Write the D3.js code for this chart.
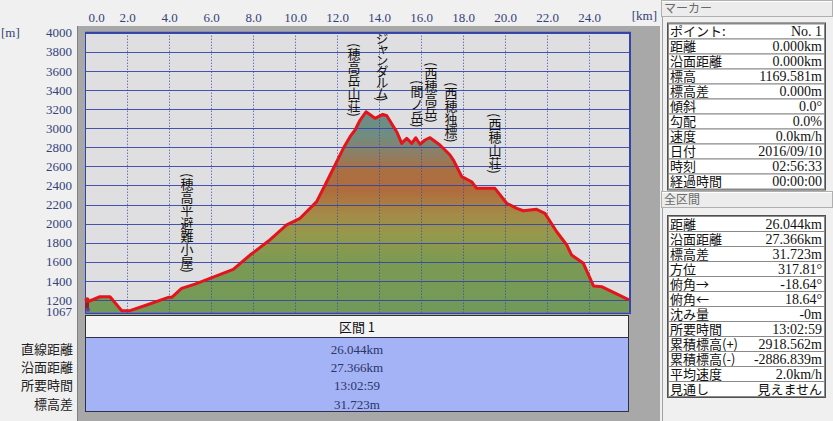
<!DOCTYPE html>
<html><head><meta charset="utf-8">
<script src="https://cdn.jsdelivr.net/npm/d3@7"></script>
<style>
html,body{margin:0;padding:0;background:#f0f0f0;overflow:hidden;}
svg{display:block;}
.ser{font-family:"Liberation Serif","DejaVu Serif",serif;}
.jp{font-family:"Noto Sans CJK JP","Noto Sans",sans-serif;}
</style></head><body>
<svg id="c" width="833" height="421"></svg>
<script>
// ---------- data ----------
const distKm = [0, 0.71, 1.19, 1.75, 2.14, 2.94, 3.97, 4.13, 4.6, 5.24, 5.95, 7.06, 7.86, 8.75, 9.6, 10.24, 11.03, 11.67, 12.3, 12.62, 12.86, 13.1, 13.38, 13.81, 14.18, 14.37, 14.84, 15.08, 15.32, 15.56, 15.75, 15.95, 16.19, 16.43, 16.9, 17.38, 17.54, 17.94, 18.41, 18.65, 19.52, 20.08, 20.56, 20.87, 21.5, 21.9, 22.46, 22.94, 23.17, 23.73, 24.21, 24.6, 25.9];
const elevM  = [1170, 1234, 1234, 1088, 1088, 1148, 1228, 1228, 1322, 1367, 1427, 1521, 1671, 1820, 1986, 2056, 2230, 2509, 2789, 2911, 2981, 3085, 3172, 3103, 3145, 3130, 2963, 2841, 2894, 2841, 2900, 2831, 2876, 2900, 2824, 2719, 2666, 2492, 2439, 2370, 2370, 2213, 2160, 2135, 2150, 2108, 1915, 1776, 1671, 1584, 1347, 1340, 1201];
const xTicks = [0, 2, 4, 6, 8, 10, 12, 14, 16, 18, 20, 22, 24];
const yTicks = [1067, 1200, 1400, 1600, 1800, 2000, 2200, 2400, 2600, 2800, 3000, 3200, 3400, 3600, 3800, 4000];
const gridElev = [1200, 1400, 1600, 1800, 2000, 2200, 2400, 2600, 2800, 3000, 3200, 3400, 3600, 3800, 4000];
const placeNames = ["(穂高平避難小屋)", "(穂高岳山荘)", "(ジャンダルム)", "(間ノ岳)", "(西穂高岳)", "(西穂独標)", "(西穂山荘)"];
const placeKm    = [4.86, 12.81, 14.14, 15.81, 16.48, 17.43, 19.52];
const placeTopM  = [2530, 3892, 4040, 3505, 3693, 3484, 3159];
const hypsoElev  = [1067, 1600, 1900, 2100, 2350, 2550, 2750, 2950, 3300];
const hypsoColor = ["#72995a", "#7b9a52", "#96984c", "#a48a48", "#b06c3c", "#aa7042", "#8a8068", "#6e8e84", "#6a8c88"];
const sectionTitle = "区間 1";
const sectionLabels = ["直線距離", "沿面距離", "所要時間", "標高差"];
const sectionValues = ["26.044km", "27.366km", "13:02:59", "31.723m"];
const markerLabels = ["ポイント:", "距離", "沿面距離", "標高", "標高差", "傾斜", "勾配", "速度", "日付", "時刻", "経過時間"];
const markerValues = ["No. 1", "0.000km", "0.000km", "1169.581m", "0.000m", "0.0°", "0.0%", "0.0km/h", "2016/09/10", "02:56:33", "00:00:00"];
const totalLabels = ["距離", "沿面距離", "標高差", "方位", "俯角→", "俯角←", "沈み量", "所要時間", "累積標高(+)", "累積標高(-)", "平均速度", "見通し"];
const totalValues = ["26.044km", "27.366km", "31.723m", "317.81°", "-18.64°", "18.64°", "-0m", "13:02:59", "2918.562m", "-2886.839m", "2.0km/h", "見えません"];

// ---------- layout ----------
const svg = d3.select("#c");
const P = {l: 85, r: 630, t: 32.7, b: 312.7};
const x = d3.scaleLinear().domain([0, 25.95]).range([P.l, P.r]);
const y = d3.scaleLinear().domain([1067, 4000]).range([P.b, P.t]);
const axisColor = "#34427a", gridColor = "#3444a8";
const JP = '"Noto Sans CJK JP","Noto Sans",sans-serif';
const SER = '"Liberation Serif","DejaVu Serif",serif';

// gray frame
svg.append("rect").attr("x", 77).attr("y", 26).attr("width", 583).attr("height", 395).attr("fill", "#a8a8a8");
svg.append("line").attr("x1", 77.5).attr("x2", 77.5).attr("y1", 26).attr("y2", 421).attr("stroke", "#808080");

// plot bg
svg.append("rect").attr("x", P.l).attr("y", P.t).attr("width", P.r - P.l).attr("height", P.b - P.t).attr("fill", "#dfdfe2");

const defs = svg.append("defs");
defs.append("clipPath").attr("id", "clip").append("rect")
  .attr("x", P.l).attr("y", P.t).attr("width", P.r - P.l).attr("height", P.b - P.t);
const grad = defs.append("linearGradient").attr("id", "hyp").attr("gradientUnits", "userSpaceOnUse")
  .attr("x1", 0).attr("x2", 0).attr("y1", y(1067)).attr("y2", y(4000));
hypsoElev.forEach((e, i) => grad.append("stop").attr("offset", (e - 1067) / (4000 - 1067)).attr("stop-color", hypsoColor[i]));

const pts = distKm.map((d, i) => [d, elevM[i]]);
const g = svg.append("g").attr("clip-path", "url(#clip)");
g.append("path").datum(pts)
  .attr("d", d3.area().x(d => x(d[0])).y0(y(1067)).y1(d => y(d[1] - 8)))
  .attr("fill", "url(#hyp)");

// grid
g.selectAll(".hg").data(gridElev).enter().append("line")
  .attr("x1", P.l).attr("x2", P.r).attr("y1", d => Math.round(y(d)) + 0.5).attr("y2", d => Math.round(y(d)) + 0.5)
  .attr("stroke", gridColor).attr("stroke-width", 1).attr("opacity", 0.9);
g.selectAll(".vg").data(xTicks).enter().append("line")
  .attr("x1", d => Math.round(x(d)) + 0.5).attr("x2", d => Math.round(x(d)) + 0.5).attr("y1", P.t).attr("y2", P.b)
  .attr("stroke", gridColor).attr("stroke-width", 1).attr("stroke-dasharray", "1,2");

// profile line
g.append("path").datum(pts)
  .attr("d", d3.line().x(d => x(d[0])).y(d => y(d[1])))
  .attr("fill", "none").attr("stroke", "#e4141c").attr("stroke-width", 3).attr("stroke-linejoin", "round");

// place names (vertical)
g.selectAll(".pn").data(placeNames).enter().append("text")
  .attr("font-family", JP)
  .attr("x", (d, i) => x(placeKm[i])).attr("y", (d, i) => y(placeTopM[i]))
  .style("writing-mode", "vertical-rl")
  .attr("font-size", 13).attr("fill", "#111")
  .attr("letter-spacing", (d, i) => i === 2 ? -2 : 0)
  .text(d => d);

// borders
svg.append("line").attr("x1", P.l).attr("x2", P.r + 1).attr("y1", P.t).attr("y2", P.t).attr("stroke", gridColor).attr("stroke-width", 2);
svg.append("line").attr("x1", P.r).attr("x2", P.r).attr("y1", P.t).attr("y2", P.b).attr("stroke", gridColor).attr("stroke-width", 2);
svg.append("line").attr("x1", P.l).attr("x2", P.r + 1).attr("y1", P.b + 0.5).attr("y2", P.b + 0.5).attr("stroke", gridColor).attr("stroke-width", 1.5);
svg.append("line").attr("x1", P.l + 0.5).attr("x2", P.l + 0.5).attr("y1", P.t).attr("y2", P.b).attr("stroke", gridColor).attr("stroke-width", 1);

// start marker icon
svg.append("circle").attr("cx", x(0) + 2).attr("cy", y(elevM[0]) - 3).attr("r", 2.5).attr("fill", "#d02020");
svg.append("rect").attr("x", x(0)).attr("y", y(elevM[0])).attr("width", 4).attr("height", 6).attr("fill", "#902030");
svg.append("circle").attr("cx", x(0) + 3).attr("cy", P.b - 3).attr("r", 2).attr("fill", "#6040a0");

// axes
const xAxis = svg.append("g").attr("transform", "translate(0,13)")
  .call(d3.axisTop(x).tickValues(xTicks).tickSize(0).tickPadding(0).tickFormat(d3.format(".1f")));
xAxis.select(".domain").remove();
xAxis.selectAll("text").attr("font-size", 13).attr("fill", axisColor).attr("font-family", SER)
  .attr("dy", "0.71em").attr("dx", d => d === 0 ? 11 : 0);
const yAxis = svg.append("g").attr("transform", "translate(75,0)")
  .call(d3.axisLeft(y).tickValues(yTicks).tickSize(0).tickPadding(3).tickFormat(d3.format("d")));
yAxis.select(".domain").remove();
yAxis.selectAll("text").attr("font-size", 13).attr("fill", axisColor).attr("font-family", SER)
  .attr("dy", d => d === 1067 ? "0.2em" : "0.32em");
svg.append("text").attr("font-family", SER).attr("x", 1).attr("y", 37).attr("font-size", 13).attr("fill", axisColor).text("[m]");
svg.append("text").attr("font-family", SER).attr("x", 657).attr("y", 20).attr("text-anchor", "end").attr("font-size", 13).attr("fill", axisColor).text("[km]");

// section table
svg.append("rect").attr("x", 85.5).attr("y", 315.5).attr("width", 543).attr("height", 22).attr("fill", "#f4f4f4").attr("stroke", "#303030");
svg.append("text").attr("font-family", JP).attr("x", 357).attr("y", 332).attr("text-anchor", "middle").attr("font-size", 13).attr("fill", "#111").text(sectionTitle);
svg.append("rect").attr("x", 85.5).attr("y", 337.5).attr("width", 543).attr("height", 74).attr("fill", "#a3b3f6").attr("stroke", "#303048");
const rowY = d3.scalePoint().domain(d3.range(sectionLabels.length)).range([349, 404]);
const secVal = svg.append("text").attr("font-family", SER).attr("text-anchor", "middle").attr("font-size", 13).attr("fill", "#2c3468");
secVal.selectAll("tspan").data(sectionValues).enter().append("tspan")
  .attr("x", 357).attr("y", (d, i) => rowY(i) + 4.5).text(d => d);
const secLab = svg.append("text").attr("font-family", JP).attr("text-anchor", "end").attr("font-size", 13).attr("fill", "#222");
secLab.selectAll("tspan").data(sectionLabels).enter().append("tspan")
  .attr("x", 73).attr("y", (d, i) => rowY(i) + 4.5).text(d => d);

// right panel
svg.append("rect").attr("x", 660).attr("y", 0).attr("width", 173).attr("height", 421).attr("fill", "#f0f0f0");
function header(y0, label) {
  svg.append("rect").attr("x", 661.5).attr("y", y0 + 0.5).attr("width", 171).attr("height", 16).attr("fill", "#ececec").attr("stroke", "#b0b0b0");
  svg.append("line").attr("x1", 662).attr("x2", 832).attr("y1", y0 + 1.5).attr("y2", y0 + 1.5).attr("stroke", "#ffffff");
  svg.append("text").attr("font-family", JP).attr("x", 664).attr("y", y0 + 13)
    .attr("font-size", 12).attr("fill", "#6a6a6a").text(label);
}
header(0, "マーカー");
header(191, "全区間");
svg.append("line").attr("x1", 662.5).attr("x2", 662.5).attr("y1", 17).attr("y2", 191).attr("stroke", "#a0a0a0");
svg.append("line").attr("x1", 662.5).attr("x2", 662.5).attr("y1", 208).attr("y2", 421).attr("stroke", "#a0a0a0");
function table(top, labels, values) {
  const rh = 15;
  const gT = svg.append("g");
  gT.selectAll("rect").data(labels).enter().append("rect")
    .attr("x", 668.5).attr("y", (d, i) => top + i * rh + 0.5).attr("width", 156).attr("height", rh)
    .attr("fill", "#ffffff").attr("stroke", "#8a8a8a");
  gT.append("rect").attr("x", 667.5).attr("y", top - 0.5).attr("width", 158).attr("height", labels.length * rh + 2)
    .attr("fill", "none").attr("stroke", "#505050");
  const lt = gT.append("text").attr("font-family", JP).attr("font-size", 13).attr("fill", "#111");
  lt.selectAll("tspan").data(labels).enter().append("tspan")
    .attr("x", 670).attr("y", (d, i) => top + i * rh + 12.8).text(d => d);
  const vt = gT.append("text").attr("font-family", SER).attr("text-anchor", "end").attr("font-size", 14).attr("fill", "#111");
  vt.selectAll("tspan").data(values).enter().append("tspan")
    .attr("font-family", d => /[ぁ-ん]/.test(d) ? JP : SER).attr("font-size", d => /[ぁ-ん]/.test(d) ? 13 : 14)
    .attr("x", 822).attr("y", (d, i) => top + i * rh + 12.8).text(d => d);
}
table(23.5, markerLabels, markerValues);
table(216, totalLabels, totalValues);
</script>
</body></html>
